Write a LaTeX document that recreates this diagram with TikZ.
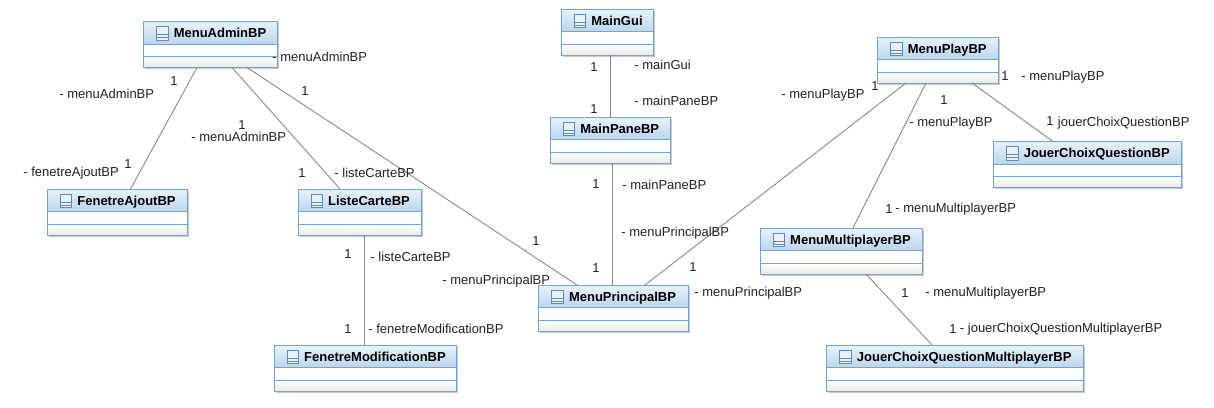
\documentclass[tikz,border=0pt]{standalone}
\usepackage{fontspec}
\setmainfont{Liberation Sans}
\definecolor{umlborder}{HTML}{6FA5DC}
\definecolor{umltop}{HTML}{E9F2FB}
\definecolor{umlbot}{HTML}{BBD5EC}
\definecolor{umllow}{HTML}{E9E9E9}
\definecolor{umlshadow}{HTML}{C8C8C8}
\definecolor{umlline}{HTML}{888888}
\definecolor{umltext}{HTML}{222222}
\tikzset{
  classbox/.style={draw=umlborder,line width=1pt,rectangle,inner sep=0pt,outer sep=0pt,minimum height=46pt,anchor=north west},
  classtitle/.style={font=\fontsize{13}{15}\selectfont\bfseries,text=black,inner sep=0pt,anchor=base west},
  assoc/.style={draw=umlline,line width=0.9pt},
  lbl/.style={font=\fontsize{13}{15}\selectfont,text=umltext,inner sep=0pt,anchor=west,xshift=0.25pt,yshift=-1pt},
  iconbox/.style={draw=umlborder!85!black,line width=0.9pt,fill=umltop}
}
\usetikzlibrary{calc}
% name, x, y, width, title
\newcommand{\umlclass}[5]{%
  \fill[umlshadow] ($(#2,#3)+(1.5pt,-1.5pt)$) rectangle ++(#4pt,-46pt);
  \node[classbox,minimum width=#4pt,fill=white] (#1) at (#2,#3) {};
  \shade[top color=umltop,bottom color=umlbot] (#1.north west) rectangle ([yshift=-22.5pt]#1.north east);
  \shade[top color=white,bottom color=umllow] ([yshift=-35pt]#1.north west) rectangle (#1.south east);
  \draw[umlborder,line width=1pt] ([yshift=-22.5pt]#1.north west) -- ([yshift=-22.5pt]#1.north east);
  \draw[umlborder,line width=1pt] ([yshift=-35pt]#1.north west) -- ([yshift=-35pt]#1.north east);
  \node[classbox,minimum width=#4pt] at (#2,#3) {};
  \node[classtitle,anchor=center,xshift=9.5pt,yshift=-11pt,text height=10pt,text depth=0pt] (#1-t) at (#1.north) {#5};
  \draw[iconbox] ([shift={(-17pt,11pt)}]#1-t.base west) rectangle ([shift={(-5.5pt,-2.5pt)}]#1-t.base west);
  \draw[umlborder!85!black,line width=0.8pt] ([shift={(-17pt,3pt)}]#1-t.base west) -- ([shift={(-5.5pt,3pt)}]#1-t.base west);
  \draw[umlborder!85!black,line width=0.8pt] ([shift={(-17pt,0pt)}]#1-t.base west) -- ([shift={(-5.5pt,0pt)}]#1-t.base west);
}
\begin{document}
\begin{tikzpicture}[x=1pt,y=-1pt]
\useasboundingbox (0,0) rectangle (1214,407);
\fill[white] (0,0) rectangle (1214,407);
\umlclass{admin}{143.5}{21.5}{134}{MenuAdminBP}
\umlclass{ajout}{47}{189}{140}{FenetreAjoutBP}
\umlclass{liste}{298}{189}{123}{ListeCarteBP}
\umlclass{modif}{274.5}{345}{182}{FenetreModificationBP}
\umlclass{gui}{561.5}{9}{92}{MainGui}
\umlclass{pane}{550}{117}{120.5}{MainPaneBP}
\umlclass{princ}{538}{285}{150}{MenuPrincipalBP}
\umlclass{play}{877.5}{37}{120.5}{MenuPlayBP}
\umlclass{jcq}{993.5}{141.5}{187.5}{JouerChoixQuestionBP}
\umlclass{multi}{760}{228}{162}{MenuMultiplayerBP}
\umlclass{jcqm}{826.5}{345}{256.5}{JouerChoixQuestionMultiplayerBP}
\draw[assoc] ([xshift=53.5pt]admin.south west) -- ([xshift=83.5pt]ajout.north west);
\draw[assoc] ([xshift=88.5pt]admin.south west) -- ([xshift=42pt]liste.north west);
\draw[assoc] ([xshift=103.5pt]admin.south west) -- ([xshift=39pt]princ.north west);
\draw[assoc] ([xshift=48.5pt]gui.south west) -- ([xshift=60pt]pane.north west);
\draw[assoc] ([xshift=62pt]pane.south west) -- ([xshift=74pt]princ.north west);
\draw[assoc] ([xshift=66pt]liste.south west) -- ([xshift=89.5pt]modif.north west);
\draw[assoc] ([xshift=28.5pt]play.south west) -- ([xshift=107pt]princ.north west);
\draw[assoc] ([xshift=48.5pt]play.south west) -- ([xshift=93pt]multi.north west);
\draw[assoc] ([xshift=94.5pt]play.south west) -- ([xshift=59.5pt]jcq.north west);
\draw[assoc] ([xshift=106pt]multi.south west) -- ([xshift=105.5pt]jcqm.north west);
\node[lbl] (l1) at (272,56) {- menuAdminBP};
\node[lbl] (l2) at (170,80) {1};
\node[lbl] (l3) at (59,93) {- menuAdminBP};
\node[lbl] (l4) at (124,163) {1};
\node[lbl] (l5) at (23,172) {- fenetreAjoutBP};
\node[lbl] (l6) at (238,124) {1};
\node[lbl] (l7) at (191,136) {- menuAdminBP};
\node[lbl] (l8) at (298,172) {1};
\node[lbl] (l9) at (334,172) {- listeCarteBP};
\node[lbl] (l10) at (301,90) {1};
\node[lbl] (l11) at (532,240) {1};
\node[lbl] (l12) at (442,280) {- menuPrincipalBP};
\node[lbl] (l13) at (344,253) {1};
\node[lbl] (l14) at (370,256) {- listeCarteBP};
\node[lbl] (l15) at (344,328) {1};
\node[lbl] (l16) at (368,328) {- fenetreModificationBP};
\node[lbl] (l17) at (590,66) {1};
\node[lbl] (l18) at (634,64) {- mainGui};
\node[lbl] (l19) at (590,108) {1};
\node[lbl] (l20) at (634,100) {- mainPaneBP};
\node[lbl] (l21) at (592,183) {1};
\node[lbl] (l22) at (622,184) {- mainPaneBP};
\node[lbl] (l23) at (621,232) {- menuPrincipalBP};
\node[lbl] (l24) at (592,267) {1};
\node[lbl] (l25) at (689,266) {1};
\node[lbl] (l26) at (694,292) {- menuPrincipalBP};
\node[lbl] (l27) at (781,94) {- menuPlayBP};
\node[lbl] (l28) at (871,85) {1};
\node[lbl] (l29) at (940,99) {1};
\node[lbl] (l30) at (909,122) {- menuPlayBP};
\node[lbl] (l31) at (1001,75) {1};
\node[lbl] (l32) at (1021,76) {- menuPlayBP};
\node[lbl] (l33) at (1046,120) {1};
\node[lbl] (l34) at (1057.5,122) {jouerChoixQuestionBP};
\node[lbl] (l35) at (885,208) {1};
\node[lbl] (l36) at (895,208) {- menuMultiplayerBP};
\node[lbl] (l37) at (901,292) {1};
\node[lbl] (l38) at (925,292) {- menuMultiplayerBP};
\node[lbl] (l39) at (949,328) {1};
\node[lbl] (l40) at (959.5,328) {- jouerChoixQuestionMultiplayerBP};
\end{tikzpicture}
\end{document}
